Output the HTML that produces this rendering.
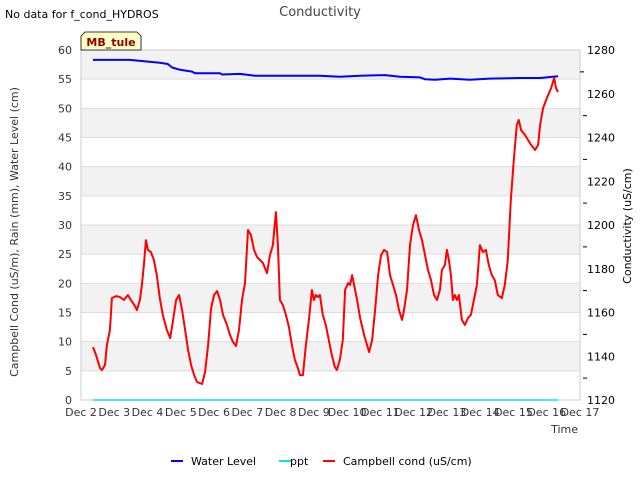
<!DOCTYPE html>
<html><head><meta charset="utf-8">
<style>
body{margin:0;background:#fff;font-family:"Liberation Sans","DejaVu Sans",sans-serif;}
svg text{font-family:"DejaVu Sans","Liberation Sans",sans-serif;}
</style></head>
<body>
<svg id="chart" width="640" height="480" xmlns="http://www.w3.org/2000/svg">
<rect width="640" height="480" fill="#fff"/>
<text x="5" y="18" font-size="11" fill="#000">No data for f_cond_HYDROS</text>
<text x="320" y="16" font-size="13" fill="#444" text-anchor="middle">Conductivity</text>
<g id="bands"></g>
<g id="grid"></g>
<rect x="81" y="50" width="499" height="350" fill="none" stroke="#ccc"/>
<g id="axes"></g>
<g id="series"></g>
<g>
<path d="M81,50 L81,36 L85,32 L137,32 L141,36 L141,50 Z" fill="#ffffc8" stroke="#000" stroke-width="0.8"/>
<text x="111" y="46" font-size="11" font-weight="bold" fill="#8b0000" text-anchor="middle">MB_tule</text>
</g>
<text transform="translate(18,232) rotate(-90)" font-size="11" fill="#333" text-anchor="middle">Campbell Cond (uS/m), Rain (mm), Water Level (cm)</text>
<text transform="translate(631,226) rotate(-90)" font-size="11" fill="#000" text-anchor="middle">Conductivity (uS/cm)</text>
<text x="578" y="433" font-size="11" fill="#333" text-anchor="end">Time</text>
<g>
<g><line x1="171" y1="461" x2="183" y2="461" stroke="#0000ff" stroke-width="2"/><text x="191" y="465" font-size="11" fill="#000">Water Level</text></g>
<g><line x1="279" y1="461" x2="291" y2="461" stroke="#00e5ee" stroke-width="2"/><text x="290" y="465" font-size="11" fill="#000">ppt</text></g>
<g><line x1="323" y1="461" x2="335" y2="461" stroke="#ff0000" stroke-width="2"/><text x="343" y="465" font-size="11" fill="#000">Campbell cond (uS/cm)</text></g>
</g>
</svg>
<script>
const xTickLabels=["Dec 2","Dec 3","Dec 4","Dec 5","Dec 6","Dec 7","Dec 8","Dec 9","Dec 10","Dec 11","Dec 12","Dec 13","Dec 14","Dec 15","Dec 16","Dec 17"];
const xTickDays=[2,3,4,5,6,7,8,9,10,11,12,13,14,15,16,17];
const leftTicks=[0,5,10,15,20,25,30,35,40,45,50,55,60];
const rightTicks=[1120,1140,1160,1180,1200,1220,1240,1260,1280];
const condDays=[2.36,2.45,2.57,2.63,2.72,2.78,2.87,2.93,3.05,3.17,3.29,3.41,3.50,3.62,3.68,3.77,3.83,3.89,3.95,4.01,4.10,4.19,4.28,4.37,4.46,4.58,4.68,4.77,4.86,4.95,5.04,5.13,5.22,5.31,5.40,5.49,5.64,5.73,5.82,5.91,6.00,6.09,6.18,6.27,6.39,6.48,6.57,6.66,6.75,6.84,6.93,7.02,7.11,7.20,7.29,7.38,7.47,7.59,7.68,7.77,7.86,7.92,7.98,8.07,8.16,8.25,8.34,8.43,8.52,8.58,8.67,8.76,8.85,8.94,9.00,9.06,9.12,9.18,9.27,9.36,9.45,9.54,9.63,9.69,9.78,9.87,9.94,10.03,10.09,10.15,10.21,10.30,10.39,10.51,10.60,10.66,10.75,10.84,10.93,11.02,11.11,11.20,11.29,11.38,11.47,11.56,11.65,11.71,11.80,11.89,11.98,12.07,12.16,12.25,12.34,12.43,12.52,12.61,12.70,12.79,12.85,12.94,13.00,13.06,13.12,13.18,13.24,13.30,13.36,13.45,13.54,13.63,13.72,13.81,13.90,13.99,14.08,14.17,14.26,14.35,14.44,14.53,14.65,14.74,14.83,14.92,15.01,15.10,15.16,15.23,15.35,15.44,15.53,15.65,15.74,15.80,15.89,15.98,16.04,16.13,16.22,16.28,16.34];
const condValues=[1144.2,1140.6,1134.6,1133.7,1136,1145.1,1152,1166.6,1167.5,1167.1,1165.7,1168,1165.7,1163,1161.1,1165.7,1172.6,1181.7,1193.1,1188.6,1187.6,1184,1177.1,1166.6,1158.9,1152,1148.3,1156.6,1165.7,1168,1161.1,1152,1142.9,1136,1131.4,1128.2,1127.3,1132.8,1145.1,1162,1168,1169.8,1165.7,1158.9,1154.3,1149.7,1146.5,1144.7,1152,1165.7,1173.5,1197.7,1195.4,1188.6,1185.4,1184,1182.6,1178,1186.3,1190.8,1205.9,1190.8,1165.7,1163.4,1158.9,1153.4,1145.1,1138.3,1134.6,1131.4,1131.4,1145.1,1156.6,1170.3,1165.7,1168,1167.1,1168,1158.9,1154.3,1147.4,1140.6,1135.1,1133.7,1138.3,1147.4,1170.3,1173.5,1172.6,1177.1,1172.6,1165.7,1157.5,1149.7,1145.1,1141.9,1147.4,1161.1,1177.1,1186.3,1188.6,1187.6,1177.1,1172.6,1168,1161.1,1156.6,1161.1,1170.3,1190.8,1200,1204.5,1197.7,1193.1,1186.3,1179.4,1174.8,1168,1165.7,1170.3,1179.4,1181.7,1188.6,1184,1177.1,1165.7,1168,1165.7,1168,1156.6,1154.3,1157.5,1158.9,1165.7,1172.6,1190.8,1187.6,1188.6,1181.7,1177.1,1174.8,1168,1166.6,1172.6,1184,1211.4,1229.7,1245.7,1248,1243.4,1241.1,1238.8,1236.6,1234.3,1236.6,1245.7,1253.5,1257.1,1259.4,1262.6,1267.2,1262.6,1260.8];
const levelDays=[2.36,3.47,4.37,4.61,4.74,4.98,5.34,5.43,6.18,6.24,6.78,7.23,8.58,9.18,9.78,10.39,11.14,11.59,12.19,12.34,12.64,13.09,13.69,14.29,15.19,15.80,16.34];
const levelValues=[58.3,58.3,57.8,57.6,57.0,56.6,56.3,56.0,56.0,55.8,55.9,55.6,55.6,55.6,55.4,55.6,55.7,55.4,55.3,55.0,54.9,55.1,54.9,55.1,55.2,55.2,55.5];
const pptDays=[2.36,16.34];
const pptValues=[0,0];

const NS="http://www.w3.org/2000/svg";
const X0=81,X1=580,Y0=400,Y1=50;
function xScale(d){return X0+(d-2)/15*(X1-X0);}
function yLeft(v){return Y0-v/60*(Y0-Y1);}
function yRight(v){return Y0-(v-1120)/160*(Y0-Y1);}
function mk(tag,attrs,parent){const e=document.createElementNS(NS,tag);for(const k in attrs)e.setAttribute(k,attrs[k]);parent.appendChild(e);return e;}
const bands=document.getElementById('bands'),grid=document.getElementById('grid'),axes=document.getElementById('axes'),series=document.getElementById('series');
for(let i=0;i<leftTicks.length-1;i++){
  if(i%2===1){const r=mk('rect',{x:X0,y:yLeft(leftTicks[i+1]),width:X1-X0,height:yLeft(leftTicks[i])-yLeft(leftTicks[i+1]),fill:'#f2f2f2'},bands);
  
  }
}
leftTicks.forEach(v=>{
  const l=mk('line',{x1:X0,x2:X1,y1:yLeft(v),y2:yLeft(v),stroke:'#dcdcdc'},grid);
  
  
  const t=mk('text',{x:72,y:yLeft(v)+4,'font-size':11,fill:'#333','text-anchor':'end'},axes);t.textContent=v;
  
  
});
rightTicks.forEach(v=>{
  const t=mk('text',{x:587,y:yRight(v)+4,'font-size':11,fill:'#000'},axes);t.textContent=v;
  
  
});
for(let v=1130;v<1280;v+=20){
  const m=mk('line',{x1:X1+(v===1270?-4:-1)+4,x2:X1+(v===1270?0:3)+4,y1:yRight(v),y2:yRight(v),stroke:'#000'},axes);
  
  
}
xTickDays.forEach((d,i)=>{
  const t=mk('text',{x:xScale(d),y:416,'font-size':11,fill:'#333','text-anchor':'middle'},axes);t.textContent=xTickLabels[i];
  
  
});
function line(days,vals,ys,color,name,w){
  const pts=days.map((d,i)=>xScale(d).toFixed(1)+','+ys(vals[i]).toFixed(1)).join(' ');
  const p=mk('polyline',{points:pts,fill:'none',stroke:color,'stroke-width':w,'stroke-linejoin':'round'},series);
  
  
}
line(pptDays,pptValues,yLeft,'#00e5ee','ppt-line',1.5);
line(levelDays,levelValues,yLeft,'#0000ff','water-level-line',2);
line(condDays,condValues,yRight,'#ff0000','campbell-cond-line',2);
</script>
</body></html>
